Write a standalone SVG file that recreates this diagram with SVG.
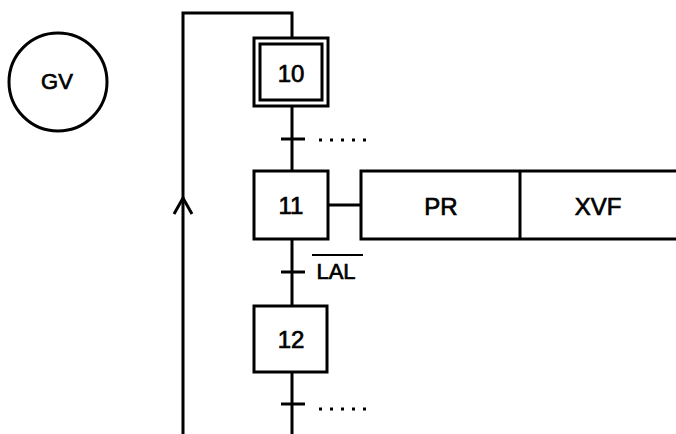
<svg xmlns="http://www.w3.org/2000/svg" width="676" height="434" viewBox="0 0 676 434">
<style>
.l{stroke:#000;stroke-width:3;fill:none}
.b{stroke:#000;stroke-width:3;fill:#fff}
.t{font-family:"Liberation Sans",Arial,sans-serif;font-size:24px;fill:#000;stroke:#000;stroke-width:0.7;text-anchor:middle}
.d{stroke:#000;stroke-width:3;stroke-dasharray:3 8;fill:none}
</style>
<rect width="676" height="434" fill="#fff"/>
<g id="connectors">
<polyline class="l" points="183,434 183,13 292,13 292,38"/>
<polyline class="l" points="174,214 183,198 192,214"/>
<line class="l" x1="292" y1="106" x2="292" y2="171"/>
<line class="l" x1="281" y1="139" x2="305" y2="139"/>
<line class="d" x1="319" y1="140" x2="372" y2="140"/>
<line class="l" x1="292" y1="239" x2="292" y2="306"/>
<line class="l" x1="281" y1="272" x2="305" y2="272"/>
<line class="l" x1="292" y1="372" x2="292" y2="434"/>
<line class="l" x1="281" y1="404" x2="305" y2="404"/>
<line class="d" x1="319" y1="409" x2="372" y2="409"/>
<line class="l" x1="328" y1="205" x2="361" y2="205"/>
</g>
<g id="GV">
<circle class="l" cx="58" cy="82" r="49"/>
<text class="t" x="57" y="89" style="font-size:22px">GV</text>
</g>
<g id="step10">
<rect class="b" x="254" y="38" width="74" height="68"/>
<rect class="l" x="260" y="44" width="62" height="56"/>
<text class="t" x="291" y="82">10</text>
</g>
<g id="step11">
<rect class="b" x="254" y="171" width="74" height="68"/>
<text class="t" x="291" y="214">11</text>
</g>
<g id="step12">
<rect class="b" x="254" y="306" width="73" height="66"/>
<text class="t" x="291" y="348">12</text>
</g>
<g id="actions">
<rect class="b" x="361" y="171" width="330" height="68"/>
<line class="l" x1="520" y1="171" x2="520" y2="239"/>
<text class="t" x="441" y="215">PR</text>
<text class="t" x="598" y="215">XVF</text>
</g>
<g id="condition">
<line class="l" x1="312" y1="255" x2="363" y2="255" style="stroke-width:2"/>
<text class="t" x="336" y="279" style="font-size:22px">LAL</text>
</g>
</svg>
